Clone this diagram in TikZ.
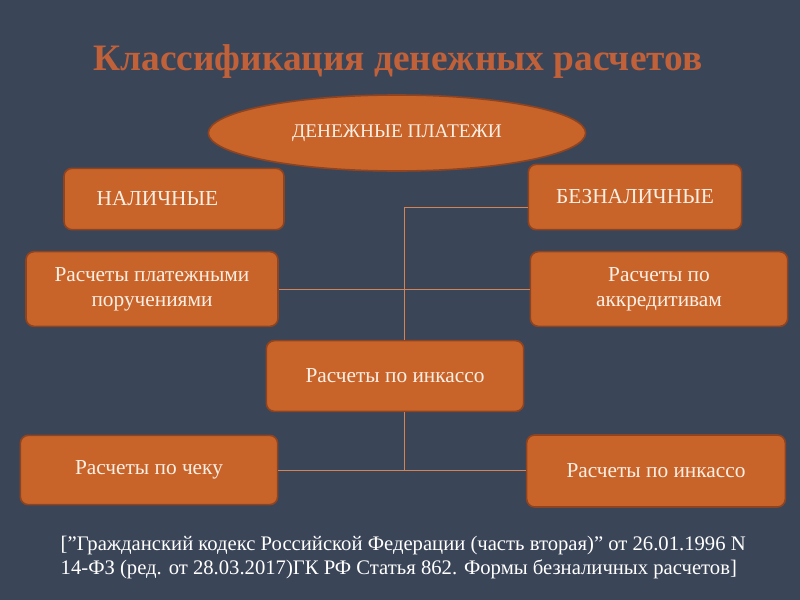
\documentclass[tikz,border=0pt]{standalone}
\usepackage{fontspec}
\setmainfont{Liberation Serif}
\usetikzlibrary{shapes.geometric,positioning}
\definecolor{fon}{HTML}{3B4558}
\definecolor{rame}{HTML}{C8642A}
\definecolor{bordo}{HTML}{8E4420}
\definecolor{titolo}{HTML}{C0613A}
\definecolor{crema}{HTML}{FBEFE4}
\begin{document}
\begin{tikzpicture}[x=0.75pt,y=-0.75pt]
\tikzset{base/.style={fill=rame,draw=bordo,line width=1.2pt,text=crema,font=\fontsize{16}{19}\selectfont,align=center,inner sep=2pt}, }
\tikzset{blocco/.style={base,rectangle,rounded corners=6pt}, }
\tikzset{linea/.style={draw=rame!80!white,line width=0.5pt},}
\fill[fon] (0,0) rectangle (800,600);
\node[text=titolo,font=\fontsize{28}{32}\selectfont\bfseries] (titolo) at (398,62) {Классификация денежных расчетов};
\node[base,ellipse,minimum width=283pt,minimum height=57pt,font=\fontsize{14.5}{17}\selectfont] (pagamenti) at (397,133) {ДЕНЕЖНЫЕ ПЛАТЕЖИ};
\node[blocco,minimum width=165pt,minimum height=46pt,text width=140pt,align=left] (contanti) at (174,199) {\hspace*{12pt}НАЛИЧНЫЕ};
\node[blocco,minimum width=160pt,minimum height=49pt] (noncontanti) at (635,197) {БЕЗНАЛИЧНЫЕ};
\node[blocco,minimum width=189pt,minimum height=56pt] (ordini) at (152,289) {Расчеты платежными\\поручениями};
\node[blocco,minimum width=193pt,minimum height=56pt] (accred) at (659,289) {Расчеты по\\аккредитивам};
\node[blocco,minimum width=193pt,minimum height=53pt] (incasso) at (395,376) {Расчеты по инкассо};
\node[blocco,minimum width=193pt,minimum height=52pt] (assegno) at (149,470) {Расчеты по чеку};
\node[blocco,minimum width=194pt,minimum height=54pt] (incasso2) at (656,471) {Расчеты по инкассо};
\coordinate (nodo1) at (404,207);
\coordinate (nodo2) at (404,470);
% linee di collegamento
\draw[linea] (noncontanti.west |- nodo1) -- (nodo1) -- (nodo1 |- incasso.north);
\draw[linea] (ordini.east) -- (accred.west);
\draw[linea] (nodo1 |- incasso.south) -- (nodo2);
\draw[linea] (assegno.east |- nodo2) -- (incasso2.west |- nodo2);
\node[text=white,font=\fontsize{15.5}{18}\selectfont,align=left,anchor=north west] (fonte) at (56,531) {[\symbol{34}Гражданский кодекс Российской Федерации (часть вторая)\symbol{34} от 26.01.1996 N\\14-ФЗ (ред. от 28.03.2017)ГК РФ Статья 862. Формы безналичных расчетов]};
\end{tikzpicture}
\end{document}
